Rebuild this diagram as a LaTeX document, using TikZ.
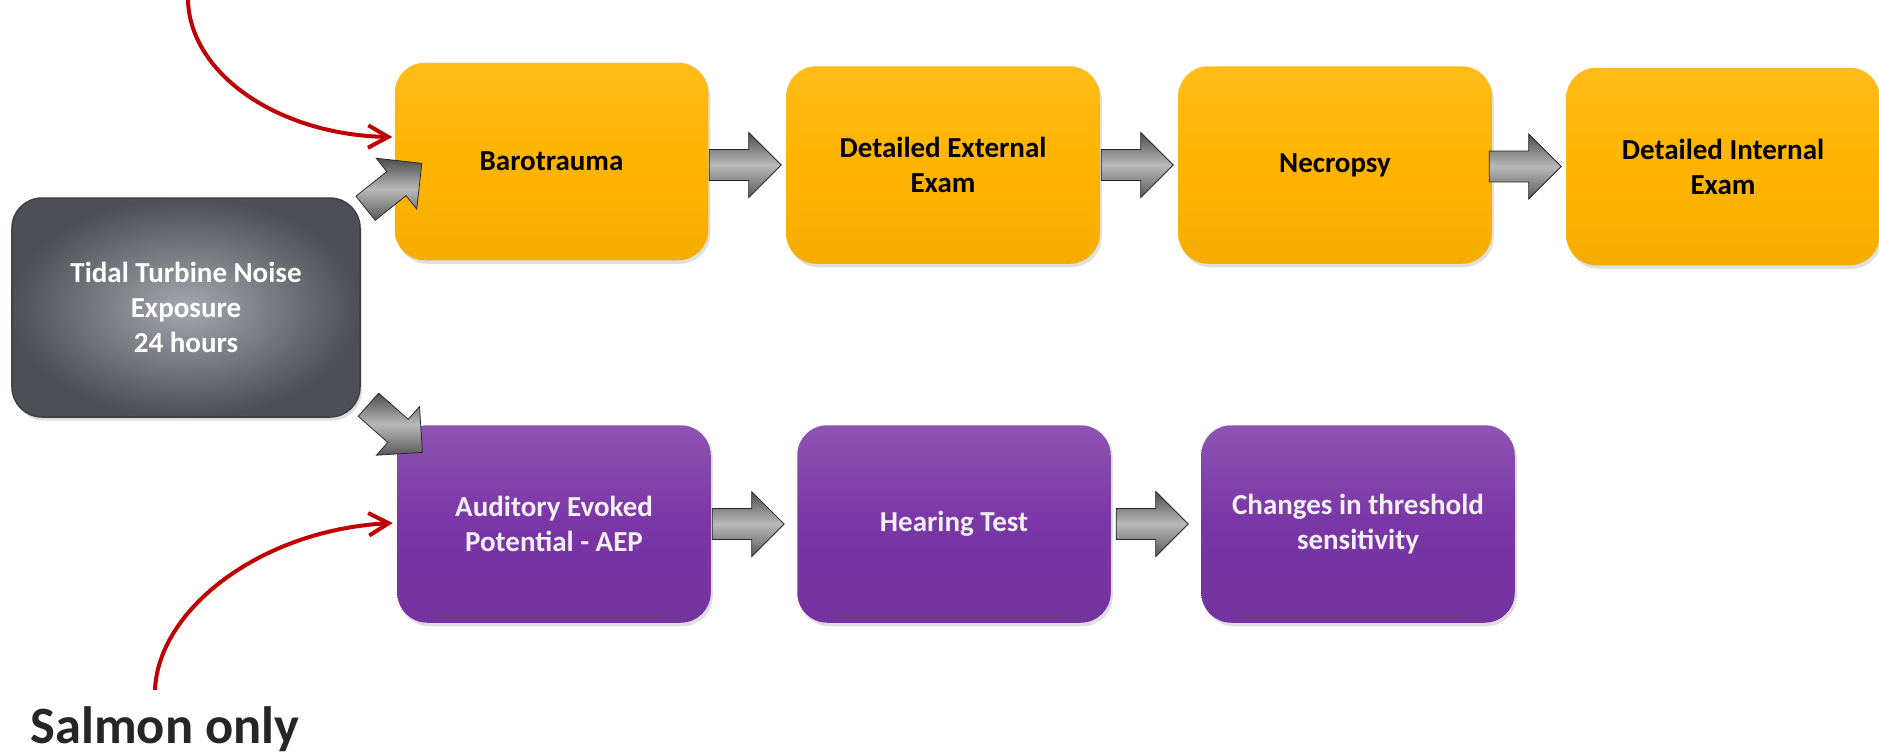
\documentclass[tikz,border=0pt]{standalone}
\usepackage{fontspec}
\setmainfont{Carlito}
\usetikzlibrary{shapes.arrows,shadows,calc,arrows.meta}
\definecolor{boxyellow}{HTML}{FFB400}
\definecolor{boxpurple}{HTML}{7A35A6}
\definecolor{greyin}{HTML}{A5A7AE}
\definecolor{greyout}{HTML}{4C4F56}
\definecolor{redline}{HTML}{C00000}
\definecolor{salmontext}{HTML}{262626}
\tikzset{
  stagebox/.style={rectangle, rounded corners=12pt, minimum width=125.4pt,
    minimum height=79pt, align=center, inner sep=2pt,
    font=\fontsize{11.6}{14}\selectfont\bfseries,
    drop shadow={shadow xshift=0.8pt, shadow yshift=-1.4pt, opacity=0.25}},
  yellowbox/.style={stagebox, top color=boxyellow!90!white, bottom color=boxyellow!96!black,
    middle color=boxyellow, text=black},
  purplebox/.style={stagebox, top color=boxpurple!85!white, bottom color=boxpurple!96!black,
    middle color=boxpurple, text=white!94!black},
  greybox/.style={stagebox, minimum width=139.2pt, minimum height=87.6pt,
    inner color=greyin, outer color=greyout, draw=greyout!80!black,
    line width=0.6pt, text=white},
  blockarr/.style={single arrow, draw=gray!30!black, line width=0.3pt,
    minimum height=28.8pt, minimum width=26pt, single arrow head extend=6.8pt,
    inner xsep=0pt, inner ysep=6pt, anchor=tip,
    top color=gray!60!black, bottom color=gray!70!black, middle color=gray!55},
  redarrow/.style={draw=redline, line width=1.6pt,
    -{Straight Barb[length=8pt,width=9pt]}},
}
\begin{document}
\begin{tikzpicture}[x=0.4pt,y=-0.4pt]
\useasboundingbox (0,0) rectangle (1879,754);
% top row
\node[greybox] (grey) at (186,307.5) {Tidal Turbine Noise\\Exposure\\24 hours};
\node[yellowbox] (baro) at (551.5,161.5) {Barotrauma};
\node[yellowbox] (ext) at (943,165) {Detailed External\\Exam};
\node[yellowbox] (necro) at (1335,165) {Necropsy};
\node[yellowbox] (int) at (1723,166.5) {Detailed Internal\\Exam};
% bottom row
\node[purplebox] (aep) at (554,524) {Auditory Evoked\\Potential - AEP};
\node[purplebox] (hear) at (954,524) {Hearing Test};
\node[purplebox] (chg) at (1358,524) {Changes in threshold\\sensitivity};
% block arrows
\node[blockarr] (a1) at ($(ext.west)+(-4,0)$) {};
\node[blockarr] (a2) at ($(necro.west)+(-4,0)$) {};
\node[blockarr] (a3) at ($(int.west)+(-4,0)$) {};
\node[blockarr] (a4) at ($(hear.west)+(-12,0)$) {};
\node[blockarr] (a5) at ($(chg.west)+(-12,0)$) {};
\node[blockarr, rotate=38.6] (d1) at ($(baro.west)+(28,1.5)$) {};
\node[blockarr, rotate=-41.5] (d2) at ($(aep.north west)+(26,28)$) {};
% red annotation arrows
\coordinate (r1) at (188,0);
\coordinate (r2) at (155,690);
\draw[redarrow] (r1) .. controls (190,75) and (280,135) .. ($(baro.west)+(-2,-24.5)$);
\draw[redarrow] (r2) .. controls (158,610) and (260,530) .. ($(aep.west)+(-4,-1)$);
\node[anchor=base west, inner sep=0pt, text=salmontext,
  font=\fontsize{21}{24}\selectfont\bfseries] (salmon) at (30,743) {Salmon only};
\end{tikzpicture}
\end{document}
